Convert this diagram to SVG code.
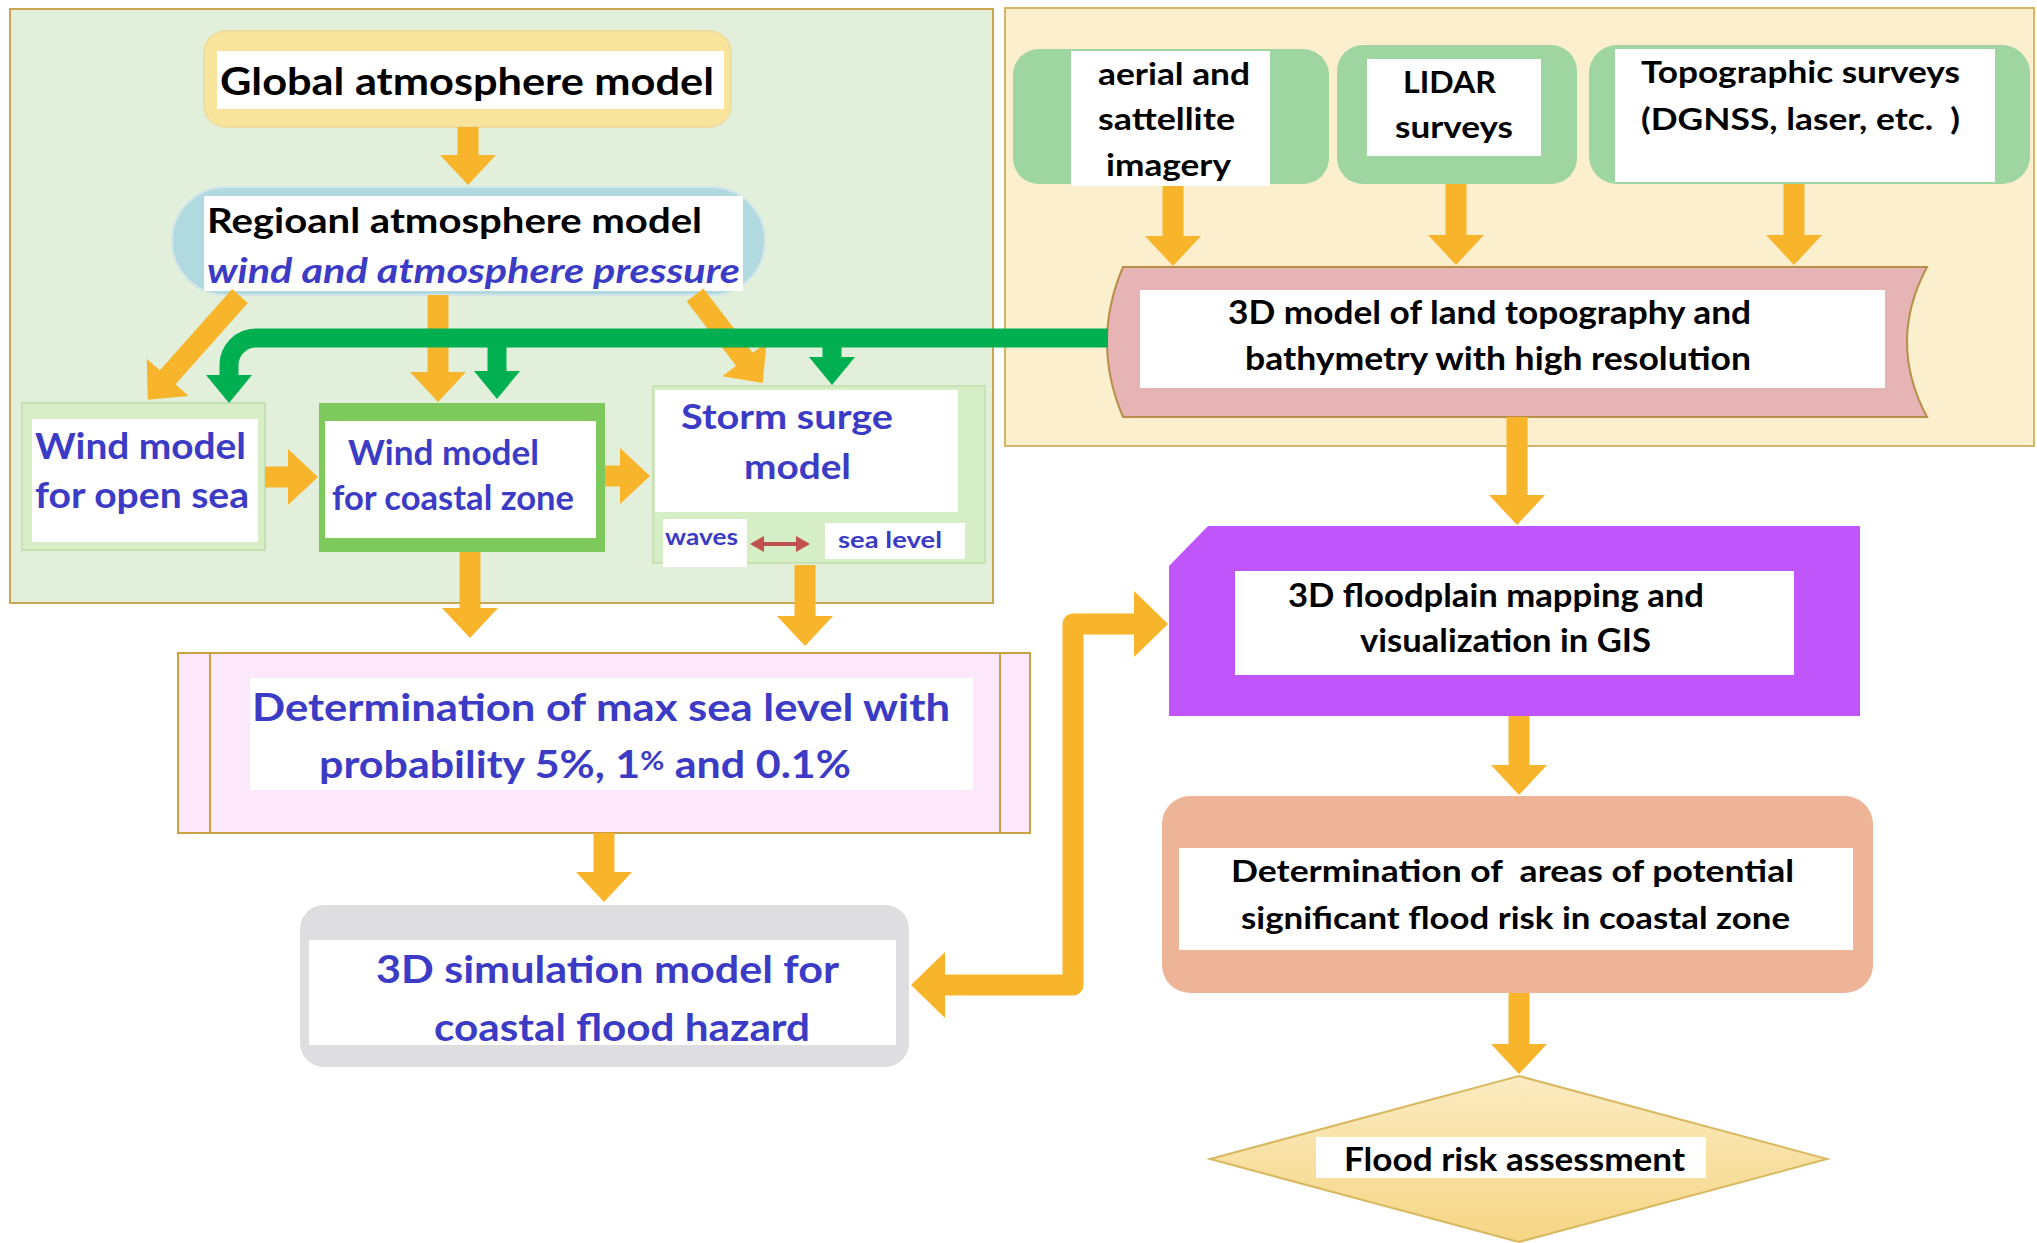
<svg xmlns="http://www.w3.org/2000/svg" width="2037" height="1243" viewBox="0 0 2037 1243">
<defs>
<style>
text{font-family:Lato,"Liberation Sans",sans-serif;font-weight:bold;}
.k{fill:#000;}
.b{fill:#3B3BC6;}
.w{fill:#fff;}
.oa{fill:none;stroke:#F8B52B;stroke-width:21;}
.ga{fill:none;stroke:#00B050;stroke-width:19;}
</style>
<marker id="oh" markerUnits="userSpaceOnUse" viewBox="0 0 30 56" markerWidth="30" markerHeight="56" refX="1" refY="28" orient="auto"><path d="M0,0L30,28L0,56Z" fill="#F8B52B"/></marker>
<marker id="oh2" markerUnits="userSpaceOnUse" viewBox="0 0 34 66" markerWidth="34" markerHeight="66" refX="1" refY="33" orient="auto-start-reverse"><path d="M0,0L34,33L0,66Z" fill="#F8B52B"/></marker>
<marker id="gh" markerUnits="userSpaceOnUse" viewBox="0 0 28 46" markerWidth="28" markerHeight="46" refX="1" refY="23" orient="auto"><path d="M0,0L28,23L0,46Z" fill="#00B050"/></marker>
<marker id="rh" markerUnits="userSpaceOnUse" viewBox="0 0 14 16" markerWidth="14" markerHeight="16" refX="2" refY="8" orient="auto-start-reverse"><path d="M0,0L14,8L0,16Z" fill="#C0504D"/></marker>
<linearGradient id="dg" x1="0" y1="0" x2="0" y2="1"><stop offset="0" stop-color="#FBEBC2"/><stop offset="1" stop-color="#F6D685"/></linearGradient>
</defs>
<rect width="2037" height="1243" fill="#fff"/>
<g id="panel-left"><rect x="10" y="9" width="983" height="594" fill="#E2F0DB" stroke="#C9A64F" stroke-width="2"/></g>
<g id="panel-right"><rect x="1005" y="8" width="1029" height="438" fill="#FBEFCD" stroke="#D4B465" stroke-width="2"/></g>

<g id="global">
<rect x="204" y="31" width="527" height="96" rx="22" fill="#F9E49C" stroke="#EFDDA0" stroke-width="2"/>
<rect x="217" y="51" width="507" height="58" class="w"/>
<text x="220" y="95" font-size="38" textLength="494" lengthAdjust="spacingAndGlyphs" class="k">Global atmosphere model</text>
</g>
<g id="regional">
<rect x="172" y="187" width="593" height="108" rx="54" fill="#B1D9E0" stroke="#D2E6EA" stroke-width="2"/>
<rect x="204" y="196" width="539" height="95" class="w"/>
<text x="207" y="233" font-size="35" textLength="495" lengthAdjust="spacingAndGlyphs" class="k">Regioanl atmosphere model</text>
<text x="207" y="283" font-size="35" font-style="italic" textLength="533" lengthAdjust="spacingAndGlyphs" class="b">wind and atmosphere pressure</text>
</g>
<g id="wind-open">
<rect x="22" y="403" width="243" height="147" fill="#D7EEC6" stroke="#C6E0B2" stroke-width="2"/>
<rect x="32" y="419" width="226" height="123" class="w"/>
<text x="35" y="459" font-size="36" textLength="211" lengthAdjust="spacingAndGlyphs" class="b">Wind model</text>
<text x="35" y="508" font-size="36" textLength="214" lengthAdjust="spacingAndGlyphs" class="b">for open sea</text>
</g>
<g id="wind-coastal">
<rect x="319" y="403" width="286" height="149" fill="#7DC95B"/>
<rect x="325" y="421" width="271" height="117" class="w"/>
<text x="348" y="465" font-size="34" textLength="191" lengthAdjust="spacingAndGlyphs" class="b">Wind model</text>
<text x="332" y="510" font-size="34" textLength="242" lengthAdjust="spacingAndGlyphs" class="b">for coastal zone</text>
</g>
<g id="storm">
<rect x="653" y="386" width="332" height="177" fill="#D6EEC5" stroke="#C8E2B4" stroke-width="2"/>
<rect x="655" y="390" width="303" height="122" class="w"/>
<text x="681" y="429" font-size="35" textLength="212" lengthAdjust="spacingAndGlyphs" class="b">Storm surge</text>
<text x="744" y="479" font-size="35" textLength="107" lengthAdjust="spacingAndGlyphs" class="b">model</text>
<rect x="663" y="519" width="84" height="48" class="w"/>
<text x="665" y="545" font-size="22" textLength="73" lengthAdjust="spacingAndGlyphs" class="b">waves</text>
<rect x="825" y="523" width="140" height="36" class="w"/>
<text x="838" y="548" font-size="22" textLength="104" lengthAdjust="spacingAndGlyphs" class="b">sea level</text>
<path d="M762,544H798" stroke="#C0504D" stroke-width="4" marker-start="url(#rh)" marker-end="url(#rh)"/>
</g>
<g id="det-max">
<rect x="178" y="653" width="852" height="180" fill="#FDE8FB" stroke="#C9A042" stroke-width="2"/>
<path d="M210,653V833M1000,653V833" stroke="#C9A042" stroke-width="2"/>
<rect x="250" y="678" width="723" height="112" class="w"/>
<text x="252" y="721" font-size="38" textLength="698" lengthAdjust="spacingAndGlyphs" class="b">Determination of max sea level with</text>
<text x="319" y="778" font-size="38" textLength="532" lengthAdjust="spacingAndGlyphs" class="b">probability 5%, 1<tspan font-size="26" dy="-8">%</tspan><tspan dy="8"> and 0.1%</tspan></text>
</g>
<g id="simulation">
<rect x="300" y="905" width="609" height="162" rx="24" fill="#DEDEE1"/>
<rect x="309" y="940" width="587" height="105" class="w"/>
<text x="376" y="983" font-size="38" textLength="463" lengthAdjust="spacingAndGlyphs" class="b">3D simulation model for</text>
<text x="434" y="1041" font-size="38" textLength="376" lengthAdjust="spacingAndGlyphs" class="b">coastal flood hazard</text>
</g>
<g id="aerial">
<rect x="1013" y="49" width="316" height="135" rx="26" fill="#9FD5A0"/>
<rect x="1071" y="51" width="199" height="135" class="w"/>
<text x="1098" y="85" font-size="31" textLength="152" lengthAdjust="spacingAndGlyphs" class="k">aerial and</text>
<text x="1098" y="130" font-size="31" textLength="137" lengthAdjust="spacingAndGlyphs" class="k">sattellite</text>
<text x="1106" y="176" font-size="31" textLength="125" lengthAdjust="spacingAndGlyphs" class="k">imagery</text>
</g>
<g id="lidar">
<rect x="1337" y="45" width="240" height="139" rx="26" fill="#9FD5A0"/>
<rect x="1367" y="59" width="174" height="97" class="w"/>
<text x="1403" y="93" font-size="31" textLength="93" lengthAdjust="spacingAndGlyphs" class="k">LIDAR</text>
<text x="1395" y="138" font-size="31" textLength="118" lengthAdjust="spacingAndGlyphs" class="k">surveys</text>
</g>
<g id="topographic">
<rect x="1589" y="45" width="441" height="139" rx="28" fill="#9FD5A0"/>
<rect x="1615" y="49" width="380" height="133" class="w"/>
<text x="1641" y="83" font-size="31" textLength="319" lengthAdjust="spacingAndGlyphs" class="k">Topographic surveys</text>
<text x="1641" y="130" font-size="31" textLength="319" lengthAdjust="spacingAndGlyphs" class="k" xml:space="preserve">(DGNSS, laser, etc.  )</text>
</g>
<g id="model-3d">
<path d="M1123,267L1927,267Q1887,342 1927,417L1123,417Q1091,342 1123,267Z" fill="#E6B4B5" stroke="#B88E4A" stroke-width="2"/>
<rect x="1140" y="290" width="745" height="98" class="w"/>
<text x="1228" y="324" font-size="32" textLength="523" lengthAdjust="spacingAndGlyphs" class="k">3D model of land topography and</text>
<text x="1245" y="370" font-size="32" textLength="506" lengthAdjust="spacingAndGlyphs" class="k">bathymetry with high resolution</text>
</g>
<g id="floodplain">
<path d="M1208,526L1860,526L1860,716L1169,716L1169,566Z" fill="#BF55FA"/>
<rect x="1235" y="571" width="559" height="104" class="w"/>
<text x="1288" y="607" font-size="32" textLength="416" lengthAdjust="spacingAndGlyphs" class="k">3D floodplain mapping and</text>
<text x="1360" y="652" font-size="32" textLength="291" lengthAdjust="spacingAndGlyphs" class="k">visualization in GIS</text>
</g>
<g id="det-areas">
<rect x="1162" y="796" width="711" height="197" rx="28" fill="#EEB497"/>
<rect x="1179" y="848" width="674" height="102" class="w"/>
<text x="1231" y="882" font-size="31" textLength="563" lengthAdjust="spacingAndGlyphs" class="k" xml:space="preserve">Determination of  areas of potential</text>
<text x="1241" y="929" font-size="31" textLength="549" lengthAdjust="spacingAndGlyphs" class="k">significant flood risk in coastal zone</text>
</g>
<g id="flood-risk">
<polygon points="1519,1076 1827,1159 1519,1242 1210,1159" fill="url(#dg)" stroke="#D8B860" stroke-width="2"/>
<rect x="1316" y="1137" width="390" height="41" class="w"/>
<text x="1344" y="1171" font-size="32" textLength="341" lengthAdjust="spacingAndGlyphs" class="k">Flood risk assessment</text>
</g>

<g id="connectors">
<path class="oa" marker-end="url(#oh)" d="M468,127V156"/>
<path class="oa" marker-end="url(#oh)" d="M240,296L167,378"/>
<path class="oa" marker-end="url(#oh)" d="M438,295V373"/>
<path class="oa" marker-end="url(#oh)" d="M695,295L745,360"/>
<path class="oa" marker-end="url(#oh)" d="M265,477H289"/>
<path class="oa" marker-end="url(#oh)" d="M605,476H621"/>
<path class="oa" marker-end="url(#oh)" d="M470,552V609"/>
<path class="oa" marker-end="url(#oh)" d="M805,565V617"/>
<path class="oa" marker-end="url(#oh)" d="M604,833V873"/>
<path class="oa" marker-end="url(#oh)" d="M1173,186V237"/>
<path class="oa" marker-end="url(#oh)" d="M1456,184V236"/>
<path class="oa" marker-end="url(#oh)" d="M1794,184V236"/>
<path class="oa" marker-end="url(#oh)" d="M1517,417V496"/>
<path class="oa" marker-end="url(#oh)" d="M1519,716V766"/>
<path class="oa" marker-end="url(#oh)" d="M1519,993V1045"/>
<path class="oa" stroke-linejoin="round" marker-start="url(#oh2)" marker-end="url(#oh2)" d="M944,985H1073V624H1135"/>
<path class="ga" stroke-linejoin="round" marker-end="url(#gh)" d="M1108,338H256A27,27 0 0 0 229,365V376"/>
<path class="ga" marker-end="url(#gh)" d="M497,338V372"/>
<path class="ga" marker-end="url(#gh)" d="M832,338V358"/>
</g>
</svg>
